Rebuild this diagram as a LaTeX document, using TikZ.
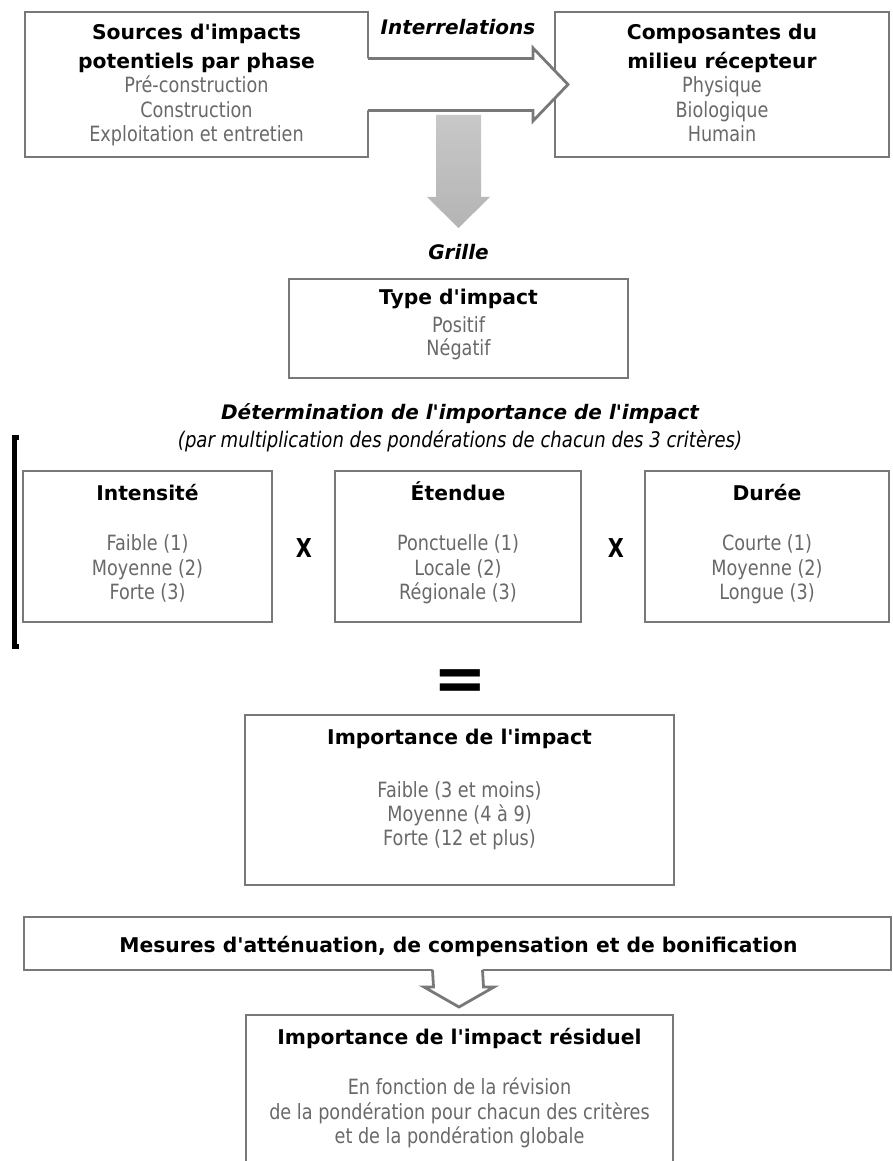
\documentclass[tikz,border=0pt]{standalone}
\usepackage{fontspec}
\setmainfont{DejaVu Sans}[Ligatures=TeXOff]
\newfontfamily\regf[FakeStretch=0.84,Ligatures=TeXOff]{DejaVu Sans}
\newfontfamily\xf[FakeStretch=0.8]{DejaVu Sans}
\usetikzlibrary{calc}
\definecolor{bordergray}{RGB}{120,120,120}
\definecolor{txtgray}{RGB}{105,105,105}
\definecolor{gtop}{RGB}{200,200,200}
\definecolor{gmid}{RGB}{222,222,222}
\definecolor{gbot}{RGB}{180,180,180}
\tikzset{
  box/.style={draw=bordergray, line width=2.8pt, fill=white, inner sep=0pt, outer sep=0pt},
  ttl/.style={font=\fontsize{20.3}{24}\selectfont\bfseries, anchor=base, inner sep=0pt},
  itm/.style={font=\regf\fontsize{21}{24}\selectfont, text=txtgray, anchor=base, inner sep=0pt},
  lbl/.style={font=\fontsize{20}{24}\selectfont\bfseries\itshape, anchor=base, inner sep=0pt},
  sublbl/.style={font=\regf\fontsize{21.5}{24}\selectfont\itshape, anchor=base, inner sep=0pt},
  bigx/.style={font=\xf\fontsize{26}{26}\selectfont\bfseries, anchor=base, inner sep=0pt},
  outl/.style={draw=bordergray, line width=2.8pt, line join=miter},
}
\begin{document}
\begin{tikzpicture}[x=1pt,y=-1pt]
\useasboundingbox (0,0) rectangle (892,1161);
% boxes
\node[box, minimum width=343pt, minimum height=145pt] (src) at (196.5,84.5) {};
\node[box, minimum width=334pt, minimum height=145pt] (rec) at (722,84.5) {};
\node[box, minimum width=339pt, minimum height=99pt] (typ) at (458.5,328.5) {};
\node[box, minimum width=249pt, minimum height=151pt] (int) at (147.5,546.5) {};
\node[box, minimum width=246pt, minimum height=151pt] (ete) at (458,546.5) {};
\node[box, minimum width=244pt, minimum height=151pt] (dur) at (767,546.5) {};
\node[box, minimum width=429pt, minimum height=170pt] (imp) at (459.5,800) {};
\node[box, minimum width=867pt, minimum height=53pt] (mes) at (457.5,943.5) {};
\node[box, minimum width=427pt, minimum height=155pt] (res) at (459.5,1092.5) {};

% interrelations arrow (hollow)
\coordinate (a0) at ($(src.east)+(0,-26)$);
\coordinate (a1) at ($(src.east)+(0,26)$);
\coordinate (tipA) at ($(rec.west)+(13,0)$);
\fill[white] ($(a0)+(-3,0)$) -- (533,58.5) -- (533,48) -- (tipA) -- (533,121) -- (533,110.5) -- ($(a1)+(-3,0)$) -- cycle;
\draw[outl] (a0) -- (533,58.5) -- (533,48) -- (tipA) -- (533,121) -- (533,110.5) -- (a1);
\node[lbl] (interl) at (458,35) {Interrelations};

% grey down arrow
\coordinate (g0) at (458.5,115);
\coordinate (gtip) at (458.5,228);
\shade[top color=gtop, middle color=gmid, bottom color=gbot]
  ($(g0)+(-22.5,0)$) -- ($(g0)+(22.5,0)$) -- (481,197) -- (490,197) -- (gtip) -- (427,197) -- (436,197) -- cycle;
\node[lbl] (grille) at (458.5,259) {Grille};

% texts in top boxes
\node[ttl] (src1) at (196.5,40) {Sources d'impacts};
\node[ttl] (src2) at (196.5,69) {potentiels par phase};
\node[itm] (src3) at (196.5,93) {Pré-construction};
\node[itm] (src4) at (196.5,118) {Construction};
\node[itm] (src5) at (196.5,142) {Exploitation et entretien};
\node[ttl] (rec1) at (722,40) {Composantes du};
\node[ttl] (rec2) at (722,69) {milieu récepteur};
\node[itm] (rec3) at (722,93) {Physique};
\node[itm] (rec4) at (722,118) {Biologique};
\node[itm] (rec5) at (722,142) {Humain};

% type
\node[ttl] (typ1) at (458.5,304) {Type d'impact};
\node[itm] (typ2) at (458.5,332) {Positif};
\node[itm] (typ3) at (458.5,355) {Négatif};

% determination
\node[lbl] (det1) at (460,419) {Détermination de l'importance de l'impact};
\node[sublbl] (det2) at (460,447) {(par multiplication des pondérations de chacun des 3 critères)};
\draw[line width=5pt] (19,437) -- (14,437) -- (14,646) -- (19,646);

% criteria
\node[ttl] (int1) at (147.5,500) {Intensité};
\node[itm] (int2) at (147.5,550) {Faible (1)};
\node[itm] (int3) at (147.5,575) {Moyenne (2)};
\node[itm] (int4) at (147.5,599) {Forte (3)};
\node[ttl] (ete1) at (458,500) {Étendue};
\node[itm] (ete2) at (458,550) {Ponctuelle (1)};
\node[itm] (ete3) at (458,575) {Locale (2)};
\node[itm] (ete4) at (458,599) {Régionale (3)};
\node[ttl] (dur1) at (767,500) {Durée};
\node[itm] (dur2) at (767,550) {Courte (1)};
\node[itm] (dur3) at (767,575) {Moyenne (2)};
\node[itm] (dur4) at (767,599) {Longue (3)};
\node[bigx] (x1) at (304,557) {X};
\node[bigx] (x2) at (616,557) {X};

% equals
\node[font=\fontsize{64}{64}\selectfont\bfseries, inner sep=0pt] (eq) at (460,685) {=};

% importance
\node[ttl] (imp1) at (459.5,744) {Importance de l'impact};
\node[itm] (imp2) at (459.5,797) {Faible (3 et moins)};
\node[itm] (imp3) at (459.5,821) {Moyenne (4 à 9)};
\node[itm] (imp4) at (459.5,845) {Forte (12 et plus)};

% mesures
\node[ttl] (mes1) at (458.5,952) {Mesures d'atténuation, de compensation et de bonification};

% hollow down arrow
\coordinate (b0) at ($(mes.south)+(-25,0)$);
\coordinate (b1) at ($(mes.south)+(25,0)$);
\coordinate (tipB) at (459,1007);
\fill[white] ($(b0)+(0,-3)$) -- (433.5,987) -- (424,987) -- (tipB) -- (494,987) -- (483.5,987) -- ($(b1)+(0,-3)$) -- cycle;
\draw[outl] (b0) -- (433.5,987) -- (424,987) -- (tipB) -- (494,987) -- (483.5,987) -- (b1);

% residual
\node[ttl] (res1) at (459.5,1044) {Importance de l'impact résiduel};
\node[itm] (res2) at (459.5,1094) {En fonction de la révision};
\node[itm] (res3) at (459.5,1119) {de la pondération pour chacun des critères};
\node[itm] (res4) at (459.5,1143) {et de la pondération globale};
\end{tikzpicture}
\end{document}
